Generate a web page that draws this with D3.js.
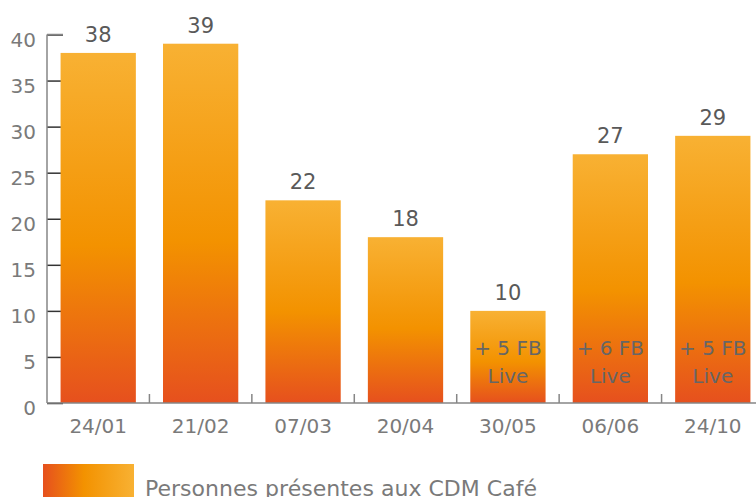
<!DOCTYPE html>
<html>
<head>
<meta charset="utf-8">
<script src="https://cdn.jsdelivr.net/npm/d3@7"></script>
<style>
  body { margin: 0; background: #fff; }
  text { font-family: "DejaVu Sans", sans-serif; }
</style>
</head>
<body>
<div id="chart"></div>
<script>
// data
var dates = ["24/01", "21/02", "07/03", "20/04", "30/05", "06/06", "24/10"];
var presents = [38, 39, 22, 18, 10, 27, 29];
var fbLive = [null, null, null, null, 5, 6, 5];
var yTicks = [0, 5, 10, 15, 20, 25, 30, 35, 40];
var legendLabel = "Personnes présentes aux CDM Café";

var W = 756, H = 497;
var margin = {top: 34, right: 0, bottom: 94, left: 47};

var svg = d3.select("#chart").append("svg")
  .attr("width", W).attr("height", H);

var defs = svg.append("defs");
var vg = defs.append("linearGradient").attr("id", "barGrad")
  .attr("x1", 0).attr("y1", 0).attr("x2", 0).attr("y2", 1);
vg.append("stop").attr("offset", "0%").attr("stop-color", "#f8b133");
vg.append("stop").attr("offset", "55%").attr("stop-color", "#f39200");
vg.append("stop").attr("offset", "100%").attr("stop-color", "#e6501e");

var hg = defs.append("linearGradient").attr("id", "legGrad")
  .attr("x1", 0).attr("y1", 0).attr("x2", 1).attr("y2", 0);
hg.append("stop").attr("offset", "0%").attr("stop-color", "#e6501e");
hg.append("stop").attr("offset", "45%").attr("stop-color", "#f39200");
hg.append("stop").attr("offset", "100%").attr("stop-color", "#f8b133");

var x = d3.scaleBand()
  .domain(dates)
  .range([margin.left, margin.left + 717])
  .paddingInner(0.265).paddingOuter(0.1325);

var y = d3.scaleLinear()
  .domain([0, 40])
  .range([403, 34.5]);

var axisCol = "#868686";

// y axis: inner ticks drawn first, bars cover them
var yAxis = svg.append("g")
  .attr("transform", "translate(" + margin.left + ",0)")
  .call(d3.axisRight(y).tickValues(yTicks).tickSize(16).tickFormat(""));
yAxis.select(".domain").remove();
yAxis.selectAll("line").attr("stroke", "#333").attr("stroke-width", 1.5);

svg.append("line")
  .attr("x1", margin.left).attr("x2", margin.left)
  .attr("y1", y(40)).attr("y2", y(0))
  .attr("stroke", axisCol).attr("stroke-width", 1.5);
svg.append("line")
  .attr("x1", margin.left).attr("x2", margin.left + 16)
  .attr("y1", y(40)).attr("y2", y(40))
  .attr("stroke", axisCol).attr("stroke-width", 1.5);

svg.selectAll(".ylab").data(yTicks).enter().append("text")
  .attr("class", "ylab")
  .attr("x", 36).attr("y", function(d) { return y(d) + 12; })
  .attr("text-anchor", "end")
  .attr("font-size", "20px")
  .attr("fill", "#7a7a7a")
  .text(function(d) { return d; });

// bars
svg.selectAll(".bar").data(presents).enter().append("rect")
  .attr("class", "bar")
  .attr("x", function(d, i) { return x(dates[i]); })
  .attr("y", function(d) { return y(d); })
  .attr("width", x.bandwidth())
  .attr("height", function(d) { return y(0) - y(d); })
  .attr("fill", "url(#barGrad)");

// x axis
svg.append("line")
  .attr("x1", margin.left).attr("x2", W)
  .attr("y1", y(0)).attr("y2", y(0))
  .attr("stroke", axisCol).attr("stroke-width", 1.5);

var step = x.step();
svg.selectAll(".xtick").data(dates).enter().append("line")
  .attr("class", "xtick")
  .attr("x1", function(d, i) { return margin.left + step * (i + 1); })
  .attr("x2", function(d, i) { return margin.left + step * (i + 1); })
  .attr("y1", y(0)).attr("y2", y(0) - 9)
  .attr("stroke", axisCol).attr("stroke-width", 1.5);

svg.selectAll(".xlab").data(dates).enter().append("text")
  .attr("class", "xlab")
  .attr("x", function(d) { return x(d) + x.bandwidth() / 2; })
  .attr("y", 433)
  .attr("text-anchor", "middle")
  .attr("font-size", "20px")
  .attr("fill", "#7a7a7a")
  .text(function(d) { return d; });

// value labels
svg.selectAll(".val").data(presents).enter().append("text")
  .attr("class", "val")
  .attr("x", function(d, i) { return x(dates[i]) + x.bandwidth() / 2; })
  .attr("y", function(d) { return y(d) - 11; })
  .attr("text-anchor", "middle")
  .attr("font-size", "21px")
  .attr("fill", "#595959")
  .text(function(d) { return d; });

// FB live notes inside the last bars
fbLive.forEach(function(d, i) {
  if (d === null) return;
  var cx = x(dates[i]) + x.bandwidth() / 2;
  var t = svg.append("text")
    .attr("class", "note")
    .attr("text-anchor", "middle")
    .attr("font-size", "20px")
    .attr("fill", "#666");
  t.append("tspan").attr("x", cx).attr("y", 355).text("+ " + d + " FB");
  t.append("tspan").attr("x", cx).attr("y", 383).text("Live");
});

// legend
svg.append("rect")
  .attr("x", 43).attr("y", 464)
  .attr("width", 91).attr("height", 40)
  .attr("fill", "url(#legGrad)");
svg.append("text")
  .attr("x", 145).attr("y", 496)
  .attr("font-size", "22px")
  .attr("textLength", 392)
  .attr("fill", "#7a7a7a")
  .text(legendLabel);
</script>
</body>
</html>
